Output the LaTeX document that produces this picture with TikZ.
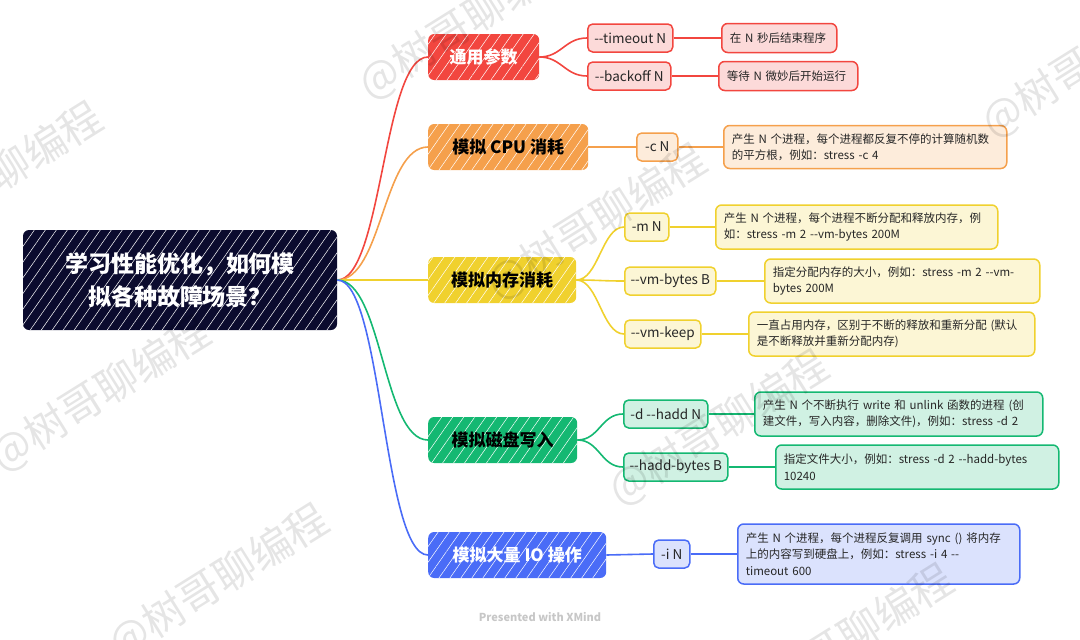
\documentclass[tikz,border=0pt]{standalone}
\usepackage{fontspec}
\newfontfamily\cjk{Noto Sans CJK SC}
\usetikzlibrary{positioning,patterns.meta}
\definecolor{rootc}{HTML}{0B0B2E}
\definecolor{redc}{HTML}{F2463F}
\definecolor{orgc}{HTML}{F5A04C}
\definecolor{ylwc}{HTML}{F0D12E}
\definecolor{grnc}{HTML}{14B872}
\definecolor{bluc}{HTML}{4A6CF7}
\newcommand\dbl{-\kern0pt-}

\begin{document}
\begin{tikzpicture}[x=1pt,y=1pt,
  hatch/.style={postaction={pattern={Lines[angle=55,distance=9pt,line width=0.5pt]},pattern color=white,fill opacity=0.45}},
  rootbox/.style={rectangle,rounded corners=6pt,fill=rootc,text=white,align=center,font=\cjk\bfseries\fontsize{23}{33}\selectfont,minimum width=314pt,minimum height=100pt,hatch},
  topic/.style={rectangle,rounded corners=6pt,fill=#1,anchor=west,font=\cjk\bfseries\fontsize{17}{20}\selectfont,minimum height=46pt,inner sep=0pt,hatch},
  opt/.style={rectangle,rounded corners=5pt,draw=#1,fill=#1!20,line width=1.5pt,anchor=west,text=black!85,font=\cjk\fontsize{13.5}{16}\selectfont,minimum height=28pt,inner sep=0pt},
  note/.style={rectangle,rounded corners=6pt,draw=#1,fill=#1!20,line width=1.5pt,anchor=west,align=left,text=black!85,font=\cjk\fontsize{11.5}{16.5}\selectfont,inner xsep=8pt,inner ysep=0pt},
  link/.style={line width=1.6pt,out=0,in=180},
  wmark/.style={rotate=32,font=\cjk\fontsize{42}{42}\selectfont,text=black,text opacity=0.1}
]
\useasboundingbox (0,0) rectangle (1080,-640);

\node[rootbox] (root) at (180,-280) {学习性能优化，如何模\\拟各种故障场景？};

\node[topic=redc,text=white,minimum width=111pt] (gen) at (428,-57) {通用参数};
\node[topic=orgc,minimum width=160pt] (cpu) at (428,-147) {模拟 CPU 消耗};
\node[topic=ylwc,minimum width=148pt] (mem) at (428,-280) {模拟内存消耗};
\node[topic=grnc,minimum width=149pt] (disk) at (428,-440) {模拟磁盘写入};
\node[topic=bluc,text=white,minimum width=178pt] (io) at (428,-555) {模拟大量 IO 操作};

% options
\node[opt=redc,minimum width=85pt] (timeout) at (587,-38) {\dbl timeout N};
\node[opt=redc,minimum width=83pt] (backoff) at (587,-76) {\dbl backoff N};
\node[opt=orgc,minimum width=41pt] (c) at (636,-147) {-c N};
\node[opt=ylwc,minimum width=44pt] (m) at (624,-227) {-m N};
\node[opt=ylwc,minimum width=91pt] (vmbytes) at (624,-281) {\dbl vm-bytes B};
\node[opt=ylwc,minimum width=76pt] (vmkeep) at (624,-334) {\dbl vm-keep};
\node[opt=grnc,minimum width=84pt] (hadd) at (623,-414) {-d \dbl hadd N};
\node[opt=grnc,minimum width=104pt] (haddbytes) at (623,-467) {\dbl hadd-bytes B};
\node[opt=bluc,minimum width=36pt] (i) at (653,-554) {-i N};

% notes
\node[note=redc,text width=99pt,minimum height=29pt] (timeoutn) at (721,-38) {在 N 秒后结束程序};
\node[note=redc,text width=123pt,minimum height=29pt] (backoffn) at (718,-76) {等待 N 微妙后开始运行};
\node[note=orgc,text width=267pt,minimum height=43pt] (cn) at (723,-147) {产生 N 个进程，每个进程都反复不停的计算随机数\\的平方根，例如：stress -c 4};
\node[note=ylwc,text width=266pt,minimum height=44pt] (mn) at (715,-227) {产生 N 个进程，每个进程不断分配和释放内存，例\\如：stress -m 2 \dbl vm-bytes 200M};
\node[note=ylwc,text width=259pt,minimum height=44pt] (vmbytesn) at (764,-281) {指定分配内存的大小，例如：stress -m 2 \dbl vm-\\bytes 200M};
\node[note=ylwc,text width=270pt,minimum height=44pt] (vmkeepn) at (748,-334) {一直占用内存，区别于不断的释放和重新分配 (默认\\是不断释放并重新分配内存)};
\node[note=grnc,text width=272pt,minimum height=44pt] (haddn) at (754,-414) {产生 N 个不断执行 write 和 unlink 函数的进程 (创\\建文件，写入内容，删除文件)，例如：stress -d 2};
\node[note=grnc,text width=267pt,minimum height=44pt] (haddbytesn) at (775,-467) {指定文件大小，例如：stress -d 2 \dbl hadd-bytes\\10240};
\node[note=bluc,text width=266pt,minimum height=60pt] (in) at (737,-554) {产生 N 个进程，每个进程反复调用 sync () 将内存\\上的内容写到硬盘上，例如：stress -i 4 \dbl\\timeout 600};

\node[font=\cjk\bfseries\fontsize{11}{13}\selectfont,text=black!22] (brand) at (540,-617) {Presented with XMind};

% links
\draw[link,redc,distance=45pt] (root.east) to (gen.west);
\draw[link,orgc,distance=45pt] (root.east) to (cpu.west);
\draw[link,ylwc,distance=45pt] (root.east) to (mem.west);
\draw[link,grnc,distance=45pt] (root.east) to (disk.west);
\draw[link,bluc,distance=45pt] (root.east) to (io.west);

\draw[link,redc,distance=22pt] (gen.east) to (timeout.west);
\draw[link,redc,distance=22pt] (gen.east) to (backoff.west);
\draw[link,orgc] (cpu.east) -- (c.west);
\draw[link,ylwc,distance=22pt] (mem.east) to (m.west);
\draw[link,ylwc,distance=22pt] (mem.east) to (vmbytes.west);
\draw[link,ylwc,distance=22pt] (mem.east) to (vmkeep.west);
\draw[link,grnc,distance=22pt] (disk.east) to (hadd.west);
\draw[link,grnc,distance=22pt] (disk.east) to (haddbytes.west);
\draw[link,bluc] (io.east) -- (i.west);

\draw[link,redc] (timeout.east) -- (timeoutn.west);
\draw[link,redc] (backoff.east) -- (backoffn.west);
\draw[link,orgc] (c.east) -- (cn.west);
\draw[link,ylwc] (m.east) -- (mn.west);
\draw[link,ylwc] (vmbytes.east) -- (vmbytesn.west);
\draw[link,ylwc] (vmkeep.east) -- (vmkeepn.west);
\draw[link,grnc] (hadd.east) -- (haddn.west);
\draw[link,grnc] (haddbytes.east) -- (haddbytesn.west);
\draw[link,bluc] (i.east) -- (in.west);

% watermarks
\foreach \wx/\wy [count=\k] in {597/222,469/22,-7/180,101/394,219/582,1092/60,719/428,844/642}
  \node[wmark] (wm\k) at (\wx,-\wy) {@树哥聊编程};
\end{tikzpicture}
\end{document}
